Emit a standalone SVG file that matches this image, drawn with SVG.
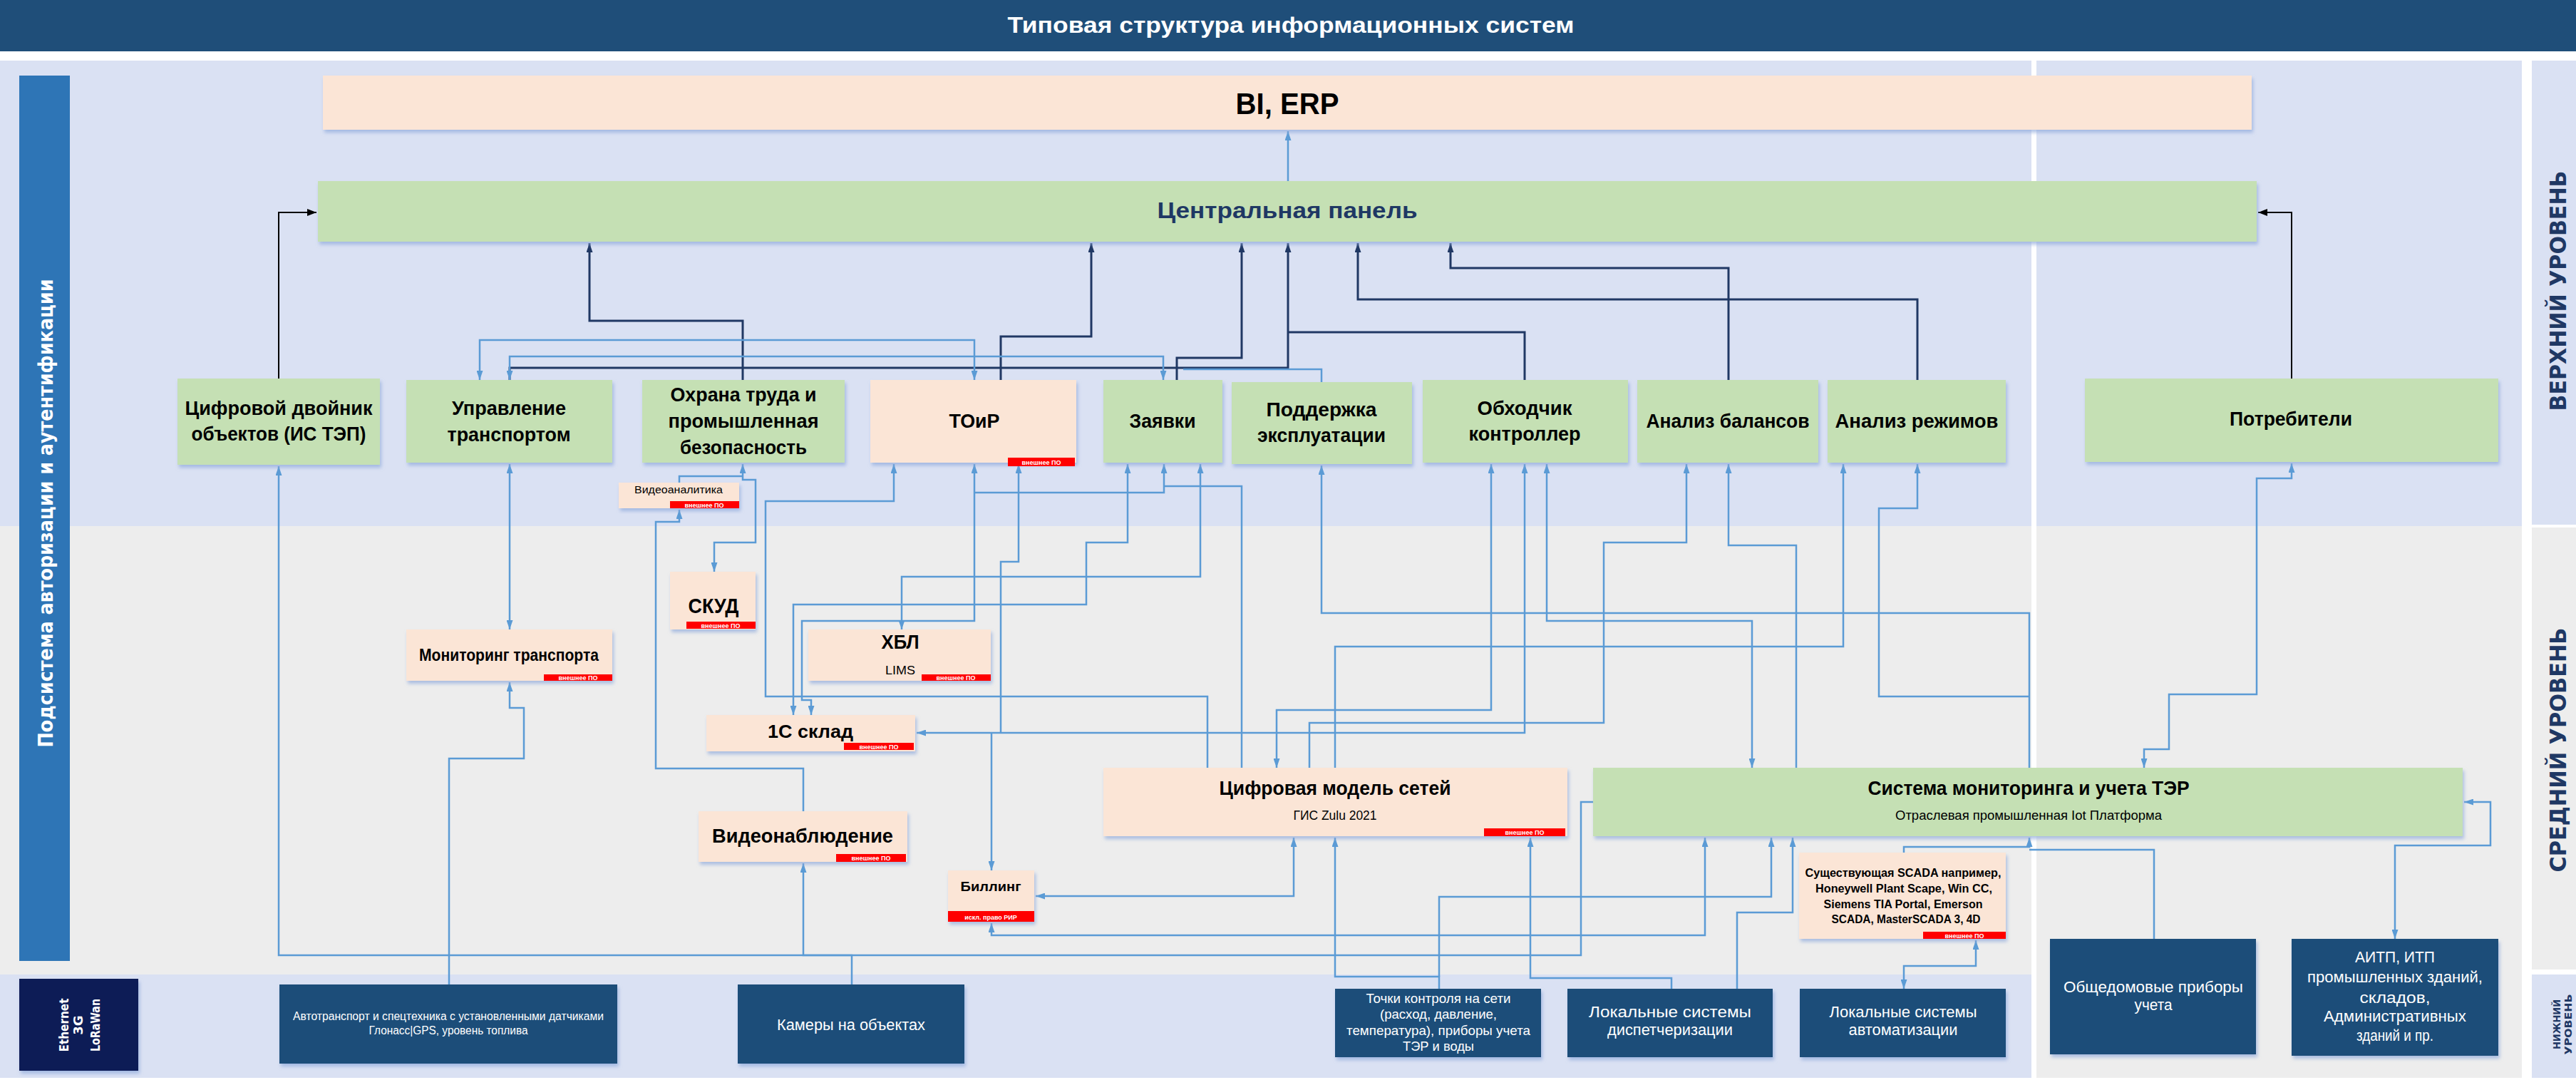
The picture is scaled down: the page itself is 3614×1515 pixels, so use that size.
<svg xmlns="http://www.w3.org/2000/svg" width="3614" height="1515" viewBox="0 0 3614 1515">
<style>
.t{font-family:"Liberation Sans",Arial,sans-serif;text-anchor:middle;fill:#000}
.b{font-weight:bold}
.w{fill:#fff}
.lv{font-family:"DejaVu Sans","Liberation Sans",sans-serif;font-weight:bold;text-anchor:middle;fill:#1F3864}
.green{fill:#C5E0B4;filter:url(#sh)}
.peach{fill:#FBE5D6;filter:url(#sh)}
.navy{fill:#1F4E79;filter:url(#sh)}
.badge{fill:#FF0000}
.bt{font-family:"Liberation Sans",Arial,sans-serif;text-anchor:middle;fill:#fff;font-size:9px;font-weight:bold}
.lb{fill:none;stroke:#5B9BD5;stroke-width:2.5}
.dn{fill:none;stroke:#203864;stroke-width:3}
.bk{fill:none;stroke:#000;stroke-width:2}
.ae{marker-end:url(#ab)}
.as{marker-start:url(#ab)}
</style>
<defs>
<filter id="sh" x="-5%" y="-10%" width="110%" height="130%"><feDropShadow dx="2" dy="4" stdDeviation="2.5" flood-color="#8EA9DB" flood-opacity="0.7"/></filter>
<marker id="ab" viewBox="0 0 13 9" refX="13" refY="4.5" markerWidth="13" markerHeight="9" markerUnits="userSpaceOnUse" orient="auto-start-reverse"><path d="M0,0 L13,4.5 L0,9 z" fill="#5B9BD5"/></marker>
<marker id="an" viewBox="0 0 13 9" refX="13" refY="4.5" markerWidth="13" markerHeight="9" markerUnits="userSpaceOnUse" orient="auto-start-reverse"><path d="M0,0 L13,4.5 L0,9 z" fill="#203864"/></marker>
<marker id="ak" viewBox="0 0 13 10" refX="13" refY="5" markerWidth="13" markerHeight="10" markerUnits="userSpaceOnUse" orient="auto-start-reverse"><path d="M0,0 L13,5 L0,10 z" fill="#000"/></marker>
</defs>

<g id="background">
<rect x="0" y="0" width="3614" height="1515" fill="#fff"/>
<rect x="0" y="85" width="2850" height="653" fill="#DAE1F3"/>
<rect x="2857" y="85" width="681" height="653" fill="#DAE1F3"/>
<rect x="3552" y="85" width="62" height="651" fill="#DAE1F3"/>
<rect x="0" y="738" width="2850" height="629" fill="#EDEDED"/>
<rect x="2857" y="738" width="681" height="774" fill="#EDEDED"/>
<rect x="3552" y="740" width="62" height="620" fill="#EDEDED"/>
<rect x="0" y="1367" width="2850" height="145" fill="#DAE1F3"/>
<rect x="3552" y="1367" width="62" height="145" fill="#DAE1F3"/>
</g>

<g id="title">
<rect x="0" y="0" width="3614" height="72" fill="#1F4E79"/>
<text class="t b w" x="1811" y="46" font-size="32" textLength="795" lengthAdjust="spacingAndGlyphs">Типовая структура информационных систем</text>
</g>

<g id="levels">
<rect x="27" y="106" width="71" height="1242" fill="#2E75B6"/>
<text class="lv" x="74" y="720" font-size="28" style="fill:#fff" textLength="657" lengthAdjust="spacingAndGlyphs" transform="rotate(-90 74 720)">Подсистема авторизации и аутентификации</text>
<text class="lv" x="3600" y="408" font-size="32" textLength="337" lengthAdjust="spacingAndGlyphs" transform="rotate(-90 3600 408)">ВЕРХНИЙ УРОВЕНЬ</text>
<text class="lv" x="3600" y="1052" font-size="32" textLength="343" lengthAdjust="spacingAndGlyphs" transform="rotate(-90 3600 1052)">СРЕДНИЙ УРОВЕНЬ</text>
<text class="lv" x="3592" y="1437" font-size="14" textLength="70" lengthAdjust="spacingAndGlyphs" transform="rotate(-90 3592 1437)">НИЖНИЙ</text>
<text class="lv" x="3608" y="1437" font-size="14" textLength="85" lengthAdjust="spacingAndGlyphs" transform="rotate(-90 3608 1437)">УРОВЕНЬ</text>
</g>

<g id="connectors">
<path class="dn" marker-end="url(#an)" d="M1042,533 V450 H827 V341"/>
<path class="dn" marker-end="url(#an)" d="M1404,533 V472 H1531 V341"/>
<path class="dn" marker-end="url(#an)" d="M1651,533 V502 H1742 V341"/>
<path class="dn" marker-end="url(#an)" d="M715,533 V516 H1807 V341"/>
<path class="dn" d="M2139,533 V466 H1807"/>
<path class="dn" marker-end="url(#an)" d="M2690,533 V420 H1905 V341"/>
<path class="dn" marker-end="url(#an)" d="M2425,533 V376 H2035 V341"/>
<path class="bk" marker-end="url(#ak)" d="M391,531 V298 H444"/>
<path class="bk" marker-end="url(#ak)" d="M3215,531 V298 H3168"/>
<path class="lb ae" d="M1807,254 V184"/>
<path class="lb ae as" d="M673,533 V477 H1367 V533"/>
<path class="lb ae as" d="M715,533 V500 H1632 V533"/>
<path class="lb" d="M1854,536 V518 H1660"/>
<path class="lb ae as" d="M1042,651 V673 H1060 V761 H1002 V802"/>
<path class="lb" d="M953,677 V668 H1042"/>
<path class="lb ae" d="M1127,1138 V1078 H920 V732 H953 V715"/>
<path class="lb ae" d="M1694,1077 V977 H1074 V703 H1254 V651"/>
<path class="lb ae as" d="M1367,651 V871 H1125 V982 H1138 V1003"/>
<path class="lb as" d="M1633,651 V691 H1367"/>
<path class="lb" d="M1742,1077 V682 H1633"/>
<path class="lb ae as" d="M1684,651 V809 H1265 V883"/>
<path class="lb ae as" d="M1582,651 V761 H1524 V848 H1113 V1003"/>
<path class="lb ae as" d="M2139,651 V1028 H1286"/>
<path class="lb ae" d="M1404,1028 V788 H1429 V651"/>
<path class="lb ae" d="M1391,1028 V1221"/>
<path class="lb ae" d="M2847,1077 V860 H1854 V653"/>
<path class="lb ae as" d="M2170,651 V871 H2458 V1077"/>
<path class="lb ae" d="M1873,1077 V907 H2586 V651"/>
<path class="lb ae as" d="M2092,651 V996 H1791 V1077"/>
<path class="lb as" d="M2366,651 V761 H2250 V1014 H1837 V1077"/>
<path class="lb ae" d="M2520,1077 V765 H2425 V651"/>
<path class="lb ae" d="M2847,977 H2636 V713 H2690 V651"/>
<path class="lb ae as" d="M3215,650 V671 H3166 V974 H3043 V1051 H3008 V1077"/>
<path class="lb ae as" d="M715,651 V883"/>
<path class="lb ae" d="M630,1381 V1064 H735 V993 H715 V957"/>
<path class="lb ae" d="M2235,1125 H2218 V1340 H391 V654"/>
<path class="lb ae" d="M1195,1381 V1340 H1127 V1211"/>
<path class="lb ae as" d="M2392,1175 V1312 H1391 V1295"/>
<path class="lb ae as" d="M1815,1175 V1257 H1453"/>
<path class="lb ae" d="M2019,1387 V1370 H1873 V1175"/>
<path class="lb ae" d="M2019,1370 V1258 H2485 V1175"/>
<path class="lb ae" d="M2345,1387 V1372 H2147 V1175"/>
<path class="lb ae" d="M2437,1387 V1280 H2515 V1175"/>
<path class="lb ae as" d="M2772,1319 V1355 H2671 V1387"/>
<path class="lb ae" d="M2671,1196 V1188 H2847 V1175"/>
<path class="lb" d="M3022,1317 V1192 H2847"/>
<path class="lb ae as" d="M3360,1317 V1186 H3494 V1125 H3457"/>
</g>

<g id="bi-erp"><rect class="peach" x="453" y="106" width="2706" height="76"/>
<text class="t b" x="1806" y="160" font-size="42" textLength="145" lengthAdjust="spacingAndGlyphs">BI, ERP</text></g>

<g id="central-panel"><rect class="green" x="446" y="254" width="2720" height="85"/>
<text class="t b" x="1806" y="306" font-size="32" style="fill:#1F3864" textLength="365" lengthAdjust="spacingAndGlyphs">Центральная панель</text></g>

<g id="digital-twin"><rect class="green" x="249" y="531" width="284" height="121"/>
<text class="t b" x="391" y="582" font-size="27" textLength="263" lengthAdjust="spacingAndGlyphs">Цифровой двойник</text>
<text class="t b" x="391" y="618" font-size="27" textLength="245" lengthAdjust="spacingAndGlyphs">объектов (ИС ТЭП)</text></g>

<g id="transport-mgmt"><rect class="green" x="570" y="533" width="289" height="116"/>
<text class="t b" x="714" y="582" font-size="27" textLength="160" lengthAdjust="spacingAndGlyphs">Управление</text>
<text class="t b" x="714" y="619" font-size="27" textLength="173" lengthAdjust="spacingAndGlyphs">транспортом</text></g>

<g id="safety"><rect class="green" x="901" y="533" width="284" height="116"/>
<text class="t b" x="1043" y="563" font-size="27" textLength="205" lengthAdjust="spacingAndGlyphs">Охрана труда и</text>
<text class="t b" x="1043" y="600" font-size="27" textLength="211" lengthAdjust="spacingAndGlyphs">промышленная</text>
<text class="t b" x="1043" y="637" font-size="27" textLength="178" lengthAdjust="spacingAndGlyphs">безопасность</text></g>

<g id="toir"><rect class="peach" x="1221" y="533" width="289" height="116"/>
<text class="t b" x="1367" y="600" font-size="27" textLength="71" lengthAdjust="spacingAndGlyphs">ТОиР</text>
<rect class="badge" x="1414" y="642" width="94" height="12"/><text class="bt" x="1461" y="652">внешнее ПО</text></g>

<g id="requests"><rect class="green" x="1548" y="533" width="167" height="116"/>
<text class="t b" x="1631" y="600" font-size="27" textLength="93" lengthAdjust="spacingAndGlyphs">Заявки</text></g>

<g id="support"><rect class="green" x="1728" y="536" width="253" height="115"/>
<text class="t b" x="1854" y="584" font-size="27" textLength="155" lengthAdjust="spacingAndGlyphs">Поддержка</text>
<text class="t b" x="1854" y="620" font-size="27" textLength="180" lengthAdjust="spacingAndGlyphs">эксплуатации</text></g>

<g id="walker"><rect class="green" x="1996" y="533" width="288" height="116"/>
<text class="t b" x="2139" y="582" font-size="27" textLength="133" lengthAdjust="spacingAndGlyphs">Обходчик</text>
<text class="t b" x="2139" y="618" font-size="27" textLength="157" lengthAdjust="spacingAndGlyphs">контроллер</text></g>

<g id="balance"><rect class="green" x="2297" y="533" width="254" height="116"/>
<text class="t b" x="2424" y="600" font-size="27" textLength="229" lengthAdjust="spacingAndGlyphs">Анализ балансов</text></g>

<g id="modes"><rect class="green" x="2564" y="533" width="250" height="116"/>
<text class="t b" x="2689" y="600" font-size="27" textLength="229" lengthAdjust="spacingAndGlyphs">Анализ режимов</text></g>

<g id="consumers"><rect class="green" x="2925" y="531" width="580" height="117"/>
<text class="t b" x="3214" y="597" font-size="27" textLength="172" lengthAdjust="spacingAndGlyphs">Потребители</text></g>

<g id="video-analytics"><rect class="peach" x="868" y="677" width="169" height="36"/>
<text class="t" x="952" y="692" font-size="15" textLength="124" lengthAdjust="spacingAndGlyphs">Видеоаналитика</text>
<rect class="badge" x="940" y="703" width="97" height="10"/><text class="bt" x="988" y="712" font-size="8">внешнее ПО</text></g>

<g id="skud"><rect class="peach" x="940" y="802" width="120" height="81"/>
<text class="t b" x="1001" y="860" font-size="30" textLength="71" lengthAdjust="spacingAndGlyphs">СКУД</text>
<rect class="badge" x="963" y="872" width="97" height="10"/><text class="bt" x="1011" y="881" font-size="8">внешнее ПО</text></g>

<g id="transport-monitoring"><rect class="peach" x="570" y="883" width="289" height="72"/>
<text class="t b" x="714" y="927" font-size="23" textLength="252" lengthAdjust="spacingAndGlyphs">Мониторинг транспорта</text>
<rect class="badge" x="763" y="946" width="96" height="9"/><text class="bt" x="811" y="954" font-size="8">внешнее ПО</text></g>

<g id="hbl"><rect class="peach" x="1134" y="883" width="256" height="72"/>
<text class="t b" x="1263" y="910" font-size="28" textLength="53" lengthAdjust="spacingAndGlyphs">ХБЛ</text>
<text class="t" x="1263" y="946" font-size="17" textLength="42" lengthAdjust="spacingAndGlyphs">LIMS</text>
<rect class="badge" x="1293" y="946" width="97" height="9"/><text class="bt" x="1341" y="954" font-size="8">внешнее ПО</text></g>

<g id="warehouse"><rect class="peach" x="991" y="1003" width="293" height="51"/>
<text class="t b" x="1137" y="1035" font-size="26" textLength="120" lengthAdjust="spacingAndGlyphs">1С склад</text>
<rect class="badge" x="1184" y="1042" width="98" height="10"/><text class="bt" x="1233" y="1051" font-size="8">внешнее ПО</text></g>

<g id="video"><rect class="peach" x="980" y="1138" width="293" height="71"/>
<text class="t b" x="1126" y="1182" font-size="28" textLength="254" lengthAdjust="spacingAndGlyphs">Видеонаблюдение</text>
<rect class="badge" x="1173" y="1198" width="98" height="11"/><text class="bt" x="1222" y="1207" font-size="8">внешнее ПО</text></g>

<g id="billing"><rect class="peach" x="1330" y="1221" width="121" height="72"/>
<text class="t b" x="1390" y="1250" font-size="19" textLength="85" lengthAdjust="spacingAndGlyphs">Биллинг</text>
<rect class="badge" x="1330" y="1278" width="121" height="15"/><text class="bt" x="1390" y="1290" font-size="10">искл. право РИР</text></g>

<g id="network-model"><rect class="peach" x="1548" y="1077" width="651" height="96"/>
<text class="t b" x="1873" y="1115" font-size="28" textLength="325" lengthAdjust="spacingAndGlyphs">Цифровая модель сетей</text>
<text class="t" x="1873" y="1150" font-size="18" textLength="117" lengthAdjust="spacingAndGlyphs">ГИС Zulu 2021</text>
<rect class="badge" x="2082" y="1162" width="114" height="11"/><text class="bt" x="2139" y="1171">внешнее ПО</text></g>

<g id="monitoring-ter"><rect class="green" x="2235" y="1077" width="1220" height="96"/>
<text class="t b" x="2846" y="1115" font-size="28" textLength="451" lengthAdjust="spacingAndGlyphs">Система мониторинга и учета ТЭР</text>
<text class="t" x="2846" y="1150" font-size="18" textLength="374" lengthAdjust="spacingAndGlyphs">Отраслевая промышленная Iot Платформа</text></g>

<g id="scada"><rect class="peach" x="2524" y="1196" width="290" height="121"/>
<text class="t b" x="2670" y="1230" font-size="16" textLength="275" lengthAdjust="spacingAndGlyphs">Существующая SCADA например,</text>
<text class="t b" x="2671" y="1252" font-size="16" textLength="248" lengthAdjust="spacingAndGlyphs">Honeywell Plant Scape, Win CC,</text>
<text class="t b" x="2670" y="1274" font-size="16" textLength="223" lengthAdjust="spacingAndGlyphs">Siemens TIA Portal, Emerson</text>
<text class="t b" x="2674" y="1295" font-size="16" textLength="209" lengthAdjust="spacingAndGlyphs">SCADA, MasterSCADA 3, 4D</text>
<rect class="badge" x="2698" y="1307" width="116" height="10"/><text class="bt" x="2756" y="1316" font-size="8">внешнее ПО</text></g>

<g id="network-types"><rect x="27" y="1373" width="167" height="129" fill="#0B1F56" filter="url(#sh)"/>
<text class="lv" x="96" y="1438" font-size="18" style="fill:#fff" textLength="75" lengthAdjust="spacingAndGlyphs" transform="rotate(-90 96 1438)">Ethernet</text>
<text class="lv" x="116" y="1438" font-size="18" style="fill:#fff" transform="rotate(-90 116 1438)">3G</text>
<text class="lv" x="140" y="1438" font-size="18" style="fill:#fff" textLength="74" lengthAdjust="spacingAndGlyphs" transform="rotate(-90 140 1438)">LoRaWan</text></g>

<g id="vehicles"><rect class="navy" x="392" y="1381" width="474" height="111"/>
<text class="t w" x="629" y="1431" font-size="16" textLength="436" lengthAdjust="spacingAndGlyphs">Автотранспорт и спецтехника с установленными датчиками</text>
<text class="t w" x="629" y="1451" font-size="16" textLength="223" lengthAdjust="spacingAndGlyphs">Глонасс|GPS, уровень топлива</text></g>

<g id="cameras"><rect class="navy" x="1035" y="1381" width="318" height="111"/>
<text class="t w" x="1194" y="1445" font-size="22" textLength="208" lengthAdjust="spacingAndGlyphs">Камеры на объектах</text></g>

<g id="control-points"><rect class="navy" x="1873" y="1387" width="289" height="96"/>
<text class="t w" x="2018" y="1407" font-size="19" textLength="203" lengthAdjust="spacingAndGlyphs">Точки контроля на сети</text>
<text class="t w" x="2018" y="1429" font-size="19" textLength="164" lengthAdjust="spacingAndGlyphs">(расход, давление,</text>
<text class="t w" x="2018" y="1452" font-size="19" textLength="258" lengthAdjust="spacingAndGlyphs">температура), приборы учета</text>
<text class="t w" x="2018" y="1474" font-size="19" textLength="100" lengthAdjust="spacingAndGlyphs">ТЭР и воды</text></g>

<g id="local-dispatch"><rect class="navy" x="2199" y="1387" width="288" height="96"/>
<text class="t w" x="2343" y="1427" font-size="22" textLength="228" lengthAdjust="spacingAndGlyphs">Локальные системы</text>
<text class="t w" x="2343" y="1452" font-size="22" textLength="176" lengthAdjust="spacingAndGlyphs">диспетчеризации</text></g>

<g id="local-automation"><rect class="navy" x="2525" y="1387" width="289" height="96"/>
<text class="t w" x="2670" y="1427" font-size="22" textLength="207" lengthAdjust="spacingAndGlyphs">Локальные системы</text>
<text class="t w" x="2670" y="1452" font-size="22" textLength="153" lengthAdjust="spacingAndGlyphs">автоматизации</text></g>

<g id="house-meters"><rect class="navy" x="2876" y="1317" width="289" height="162"/>
<text class="t w" x="3021" y="1392" font-size="22" textLength="252" lengthAdjust="spacingAndGlyphs">Общедомовые приборы</text>
<text class="t w" x="3021" y="1417" font-size="22" textLength="53" lengthAdjust="spacingAndGlyphs">учета</text></g>

<g id="itp"><rect class="navy" x="3215" y="1317" width="290" height="164"/>
<text class="t w" x="3360" y="1350" font-size="22" textLength="112" lengthAdjust="spacingAndGlyphs">АИТП, ИТП</text>
<text class="t w" x="3360" y="1378" font-size="22" textLength="246" lengthAdjust="spacingAndGlyphs">промышленных зданий,</text>
<text class="t w" x="3360" y="1407" font-size="22" textLength="99" lengthAdjust="spacingAndGlyphs">складов,</text>
<text class="t w" x="3360" y="1433" font-size="22" textLength="200" lengthAdjust="spacingAndGlyphs">Административных</text>
<text class="t w" x="3360" y="1460" font-size="22" textLength="108" lengthAdjust="spacingAndGlyphs">зданий и пр.</text></g>
</svg>
